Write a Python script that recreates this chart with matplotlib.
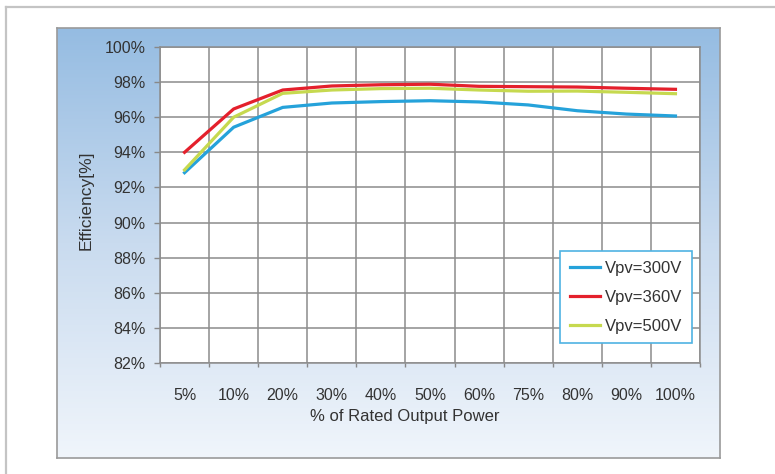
"""Inverter efficiency vs. rated output power for three PV input voltages."""

import matplotlib.pyplot as plt
import numpy as np
from matplotlib.colors import LinearSegmentedColormap
from matplotlib.lines import Line2D

plt.rcParams["font.family"] = ["Liberation Sans", "DejaVu Sans"]

power_labels = ["5%", "10%", "20%", "30%", "40%", "50%", "60%", "75%", "80%", "90%", "100%"]
eff_300 = [92.84, 95.43, 96.56, 96.81, 96.89, 96.94, 96.87, 96.70, 96.37, 96.18, 96.07]
eff_360 = [94.00, 96.47, 97.55, 97.78, 97.85, 97.88, 97.76, 97.74, 97.72, 97.65, 97.59]
eff_500 = [93.00, 96.00, 97.36, 97.55, 97.63, 97.65, 97.55, 97.48, 97.49, 97.42, 97.34]
series = [
    ("Vpv=300V", eff_300, "#25a2da"),
    ("Vpv=360V", eff_360, "#e4202c"),
    ("Vpv=500V", eff_500, "#c6d94f"),
]
y_ticks = np.arange(82, 101, 2)

W, H = 775, 474
fig = plt.figure(figsize=(W / 100, H / 100), dpi=100)


def fx(px):
    return px / W


def fy(py):
    return 1 - py / H


# outer frame (left and top edges visible)
fig.add_artist(Line2D([fx(6), fx(6)], [fy(7), 0], color="#c4c4c4", lw=1.6))
fig.add_artist(Line2D([fx(6), 1], [fy(7), fy(7)], color="#c4c4c4", lw=1.6))

# gradient panel
bg = fig.add_axes([fx(57), fy(458), fx(720 - 57), (458 - 28) / H])
cmap = LinearSegmentedColormap.from_list("panel", ["#95bce2", "#c9dbef", "#f0f5fb"])
bg.imshow(np.linspace(0, 1, 256).reshape(-1, 1), aspect="auto", cmap=cmap,
          extent=[0, 1, 0, 1], origin="upper")
bg.set_xticks([])
bg.set_yticks([])
for sp in bg.spines.values():
    sp.set_color("#9a9a9a")
    sp.set_linewidth(1.2)

ax = fig.add_axes([fx(160), fy(363), fx(700 - 160), (363 - 47) / H])
ax.set_facecolor("white")
x = np.arange(len(power_labels))
for name, vals, color in series:
    ax.plot(x, vals, color=color, lw=2.3, label=name, solid_joinstyle="round")

ax.set_xlim(-0.5, len(power_labels) - 0.5)
ax.set_ylim(82, 100)
ax.set_xticks(x)
ax.set_xticklabels(power_labels, fontsize=11.5, color="#333333")
ax.set_xticks(np.arange(-0.5, len(power_labels), 1), minor=True)
ax.tick_params(axis="x", which="major", length=0, pad=18)
ax.tick_params(axis="x", which="minor", length=3, width=1, color="#888888", direction="out")
ax.set_yticks(y_ticks)
ax.set_yticklabels([f"{v}%" for v in y_ticks], fontsize=11.5, color="#333333")
ax.tick_params(axis="y", length=4.5, width=1, color="#888888", pad=6)
ax.grid(axis="x", which="minor", color="#8c8c8c", lw=1.1)
ax.grid(axis="y", which="major", color="#8c8c8c", lw=1.1)
ax.set_axisbelow(True)
for sp in ax.spines.values():
    sp.set_color("#8c8c8c")
    sp.set_linewidth(1.1)

fig.text(fx(86), fy(200), "Efficiency[%]", rotation=90, ha="center", va="center",
         fontsize=12.5, color="#333333")
fig.text(fx(405), fy(417), "% of Rated Output Power", ha="center", va="center",
         fontsize=12, color="#333333")

leg = ax.legend(loc="lower right", bbox_to_anchor=(0.985, 0.063), borderaxespad=0,
                prop={"size": 12}, fancybox=False, framealpha=1, edgecolor="#4fb3e3",
                handlelength=1.85, handletextpad=0.3, labelspacing=0.85,
                borderpad=0.55)
leg.get_frame().set_linewidth(1.2)
for t in leg.get_texts():
    t.set_color("#333333")

fig.savefig("out.png", dpi=100)
